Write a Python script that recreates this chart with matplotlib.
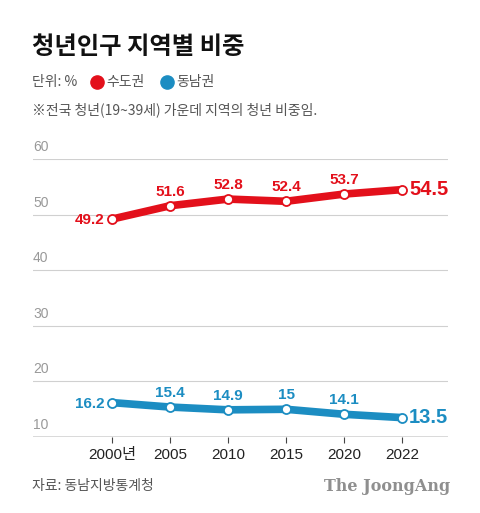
import matplotlib.pyplot as plt
from matplotlib.lines import Line2D
import numpy as np

plt.rcParams['font.family'] = ['Noto Sans CJK KR', 'DejaVu Sans']
num_font = ['Liberation Sans', 'Noto Sans CJK KR']

years = ['2000년', '2005', '2010', '2015', '2020', '2022']
sudo = [49.2, 51.6, 52.8, 52.4, 53.7, 54.5]
dongnam = [16.2, 15.4, 14.9, 15.0, 14.1, 13.5]
sudo_labels = ['49.2', '51.6', '52.8', '52.4', '53.7', '54.5']
dongnam_labels = ['16.2', '15.4', '14.9', '15', '14.1', '13.5']
yticks = [10, 20, 30, 40, 50, 60]

red = '#e3101b'
blue = '#1c8dc2'
grey = '#999999'

fig = plt.figure(figsize=(4.8, 5.13), dpi=100)
ax = fig.add_axes([0.069, 0.148, 0.864, 0.542])
x = np.arange(len(years))

for yv in yticks[1:]:
    ax.axhline(yv, color='#d0d0d0', lw=0.8, zorder=0)
ax.axhline(10, color='#444444', lw=1.0, zorder=0)
for yv in yticks:
    ax.text(-1.36, yv + 0.9, str(yv), color=grey, fontsize=10, family=num_font,
            ha='left', va='bottom')

for vals, labs, col in [(sudo, sudo_labels, red), (dongnam, dongnam_labels, blue)]:
    ax.plot(x, vals, color=col, lw=5.5, solid_capstyle='round', zorder=2)
    ax.plot(x, vals, 'o', ms=6.5, mfc='white', mec=col, mew=1.3, zorder=3, clip_on=False)
    for i, (v, t) in enumerate(zip(vals, labs)):
        if i == 0:
            ax.text(x[i] - 0.13, v - 0.2, t, color=col, fontsize=11, fontweight='bold',
                    family=num_font, ha='right', va='center')
        elif i == len(vals) - 1:
            ax.text(x[i] + 0.12, v, t, color=col, fontsize=14.5, fontweight='bold',
                    family=num_font, ha='left', va='center')
        else:
            ax.text(x[i], v + 1.3, t, color=col, fontsize=11, fontweight='bold',
                    family=num_font, ha='center', va='bottom')

ax.set_xlim(-1.36, 5.79)
ax.set_ylim(10, 60)
ax.set_xticks(x)
ax.set_xticklabels(years, fontsize=11, color='#222222', family=num_font)
ax.tick_params(axis='x', length=4, width=0.8, color='#444444', pad=4)
ax.set_yticks([])
for s in ax.spines.values():
    s.set_visible(False)

fig.text(0.067, 0.908, '청년인구 지역별 비중', fontsize=17.5, fontweight='bold', color='#111111', va='center')
fig.text(0.067, 0.840, '단위: %', fontsize=10, color='#555555', va='center')
fig.add_artist(Line2D([0.202], [0.840], marker='o', ms=9.5, color=red, transform=fig.transFigure))
fig.text(0.222, 0.840, '수도권', fontsize=10, color='#555555', va='center')
fig.add_artist(Line2D([0.348], [0.840], marker='o', ms=9.5, color=blue, transform=fig.transFigure))
fig.text(0.367, 0.840, '동남권', fontsize=10, color='#555555', va='center')
fig.text(0.067, 0.786, '※전국 청년(19~39세) 가운데 지역의 청년 비중임.', fontsize=10, color='#555555', va='center')

fig.text(0.067, 0.052, '자료: 동남지방통계청', fontsize=10, color='#555555', va='center')
fig.text(0.937, 0.052, 'The JoongAng', fontsize=11.5, fontweight='bold', family='DejaVu Serif',
         color='#8f8f8f', ha='right', va='center')

fig.savefig('out.png', dpi=100)
